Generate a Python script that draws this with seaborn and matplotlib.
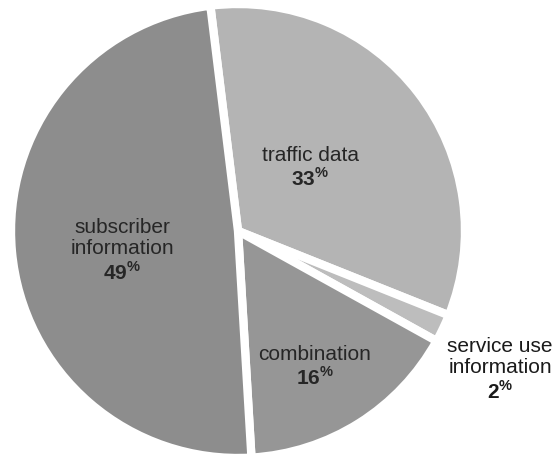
import matplotlib
matplotlib.use("Agg")
import matplotlib.pyplot as plt
import seaborn as sns

categories = ["traffic data", "service use\ninformation", "combination", "subscriber\ninformation"]
values = [33, 2, 16, 49]
colors = ["#b4b4b4", "#bdbdbd", "#969696", "#8d8d8d"]

sns.set_theme(style="white")
plt.rcParams['font.family'] = ['Liberation Sans', 'DejaVu Sans']
plt.rcParams['mathtext.fontset'] = 'custom'
plt.rcParams['mathtext.rm'] = 'Liberation Sans'
plt.rcParams['mathtext.bf'] = 'Liberation Sans:bold'

fig = plt.figure(figsize=(5.57, 4.57), dpi=100)
R = 227
cx, cy = 238, 231
ax = fig.add_axes([(cx - R) / 557, (457 - cy - R) / 457, 2 * R / 557, 2 * R / 457])
ax.pie(values, colors=colors, startangle=97, counterclock=False, radius=1,
       wedgeprops=dict(edgecolor="white", linewidth=6))
ax.set_xlim(-1, 1)
ax.set_ylim(-1, 1)
ax.set_aspect("equal")
ax.axis("off")

def to_data(px, py):
    return (px - cx) / R, (cy - py) / R

label_pos = [(310, 168), (500, 370), (315, 367), (122, 251)]
for cat, val, (px, py) in zip(categories, values, label_pos):
    x, y = to_data(px, py)
    outside = "service" in cat
    ax.text(x, y, f"{cat}\n" + r"$\mathbf{" + str(val) + r"}^{\mathbf{\%}}$",
            ha="center", va="center", fontsize=15 if outside else 15,
            color="#1a1a1a" if outside else "#262626", linespacing=1.15,
            clip_on=False)

fig.savefig("out.png", dpi=100, facecolor="white")
